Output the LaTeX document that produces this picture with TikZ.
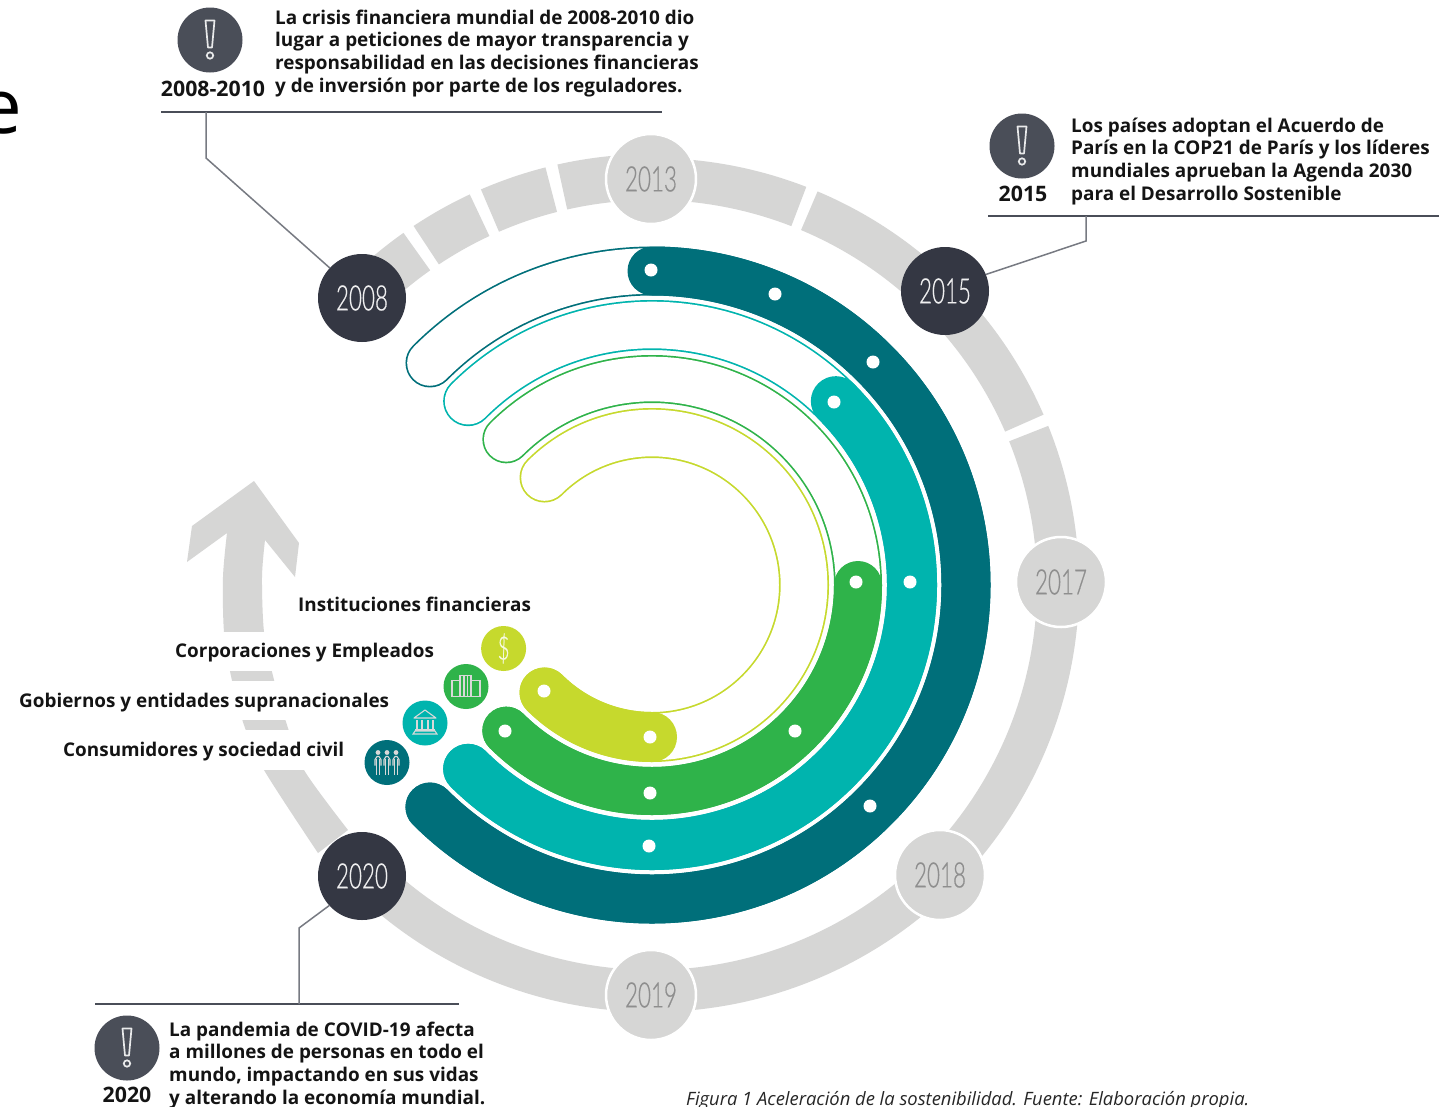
\documentclass[tikz,border=0pt]{standalone}
\usepackage{fontspec}
\setmainfont{Open Sans}
\newfontfamily\yearfont[FakeStretch=0.64,FakeBold=0.5]{Lato Light}
\definecolor{cdark}{HTML}{006F7A}
\definecolor{cteal}{HTML}{00B4AE}
\definecolor{cgreen}{HTML}{2FB34A}
\definecolor{clime}{HTML}{C6D92D}
\definecolor{cnavy}{HTML}{343743}
\definecolor{cgray}{HTML}{D6D6D5}
\definecolor{cgtext}{HTML}{8E8E8E}
\definecolor{calert}{HTML}{4A4E58}
\newcommand\band[4]{%
  \draw[#3,line width=#2 pt,line cap=round] ([shift=(C)]135:#1pt) arc[start angle=135,end angle=-135,radius=#1pt];
  \draw[white,line width=#2 pt-3.4pt,line cap=round] ([shift=(C)]135:#1pt) arc[start angle=135,end angle=-135,radius=#1pt];
  \draw[#3,line width=#2 pt,line cap=round] ([shift=(C)]#4:#1pt) arc[start angle=#4,end angle=-135,radius=#1pt];
}
\newcommand\seg[4]{\draw[cgray,line width=#4 pt] ([shift=(C)]#1:#3pt) arc[start angle=#1,end angle=#2,radius=#3pt];}
\newcommand\alertmark[1]{%
  \begin{scope}[shift={(#1)}]
    \draw[white!88!calert,line width=1.7pt,line join=round] (-4.5,19.5) -- (4.5,19.5) -- (2,-7.5) -- (-2,-7.5) -- cycle;
    \draw[white!88!calert,line width=1.7pt] (0,-15.5) circle[radius=3.2pt];
  \end{scope}}
\tikzset{
  dotw/.style={circle,fill=white,inner sep=0pt,minimum size=13pt},
  yeardark/.style={circle,fill=cnavy,text=white!92!cnavy,inner sep=0pt,minimum size=88pt,font=\yearfont\fontsize{35}{35}\selectfont},
  yeargray/.style={circle,fill=cgray,draw=white,line width=2.5pt,text=cgtext,inner sep=0pt,minimum size=90pt,font=\yearfont\fontsize{35}{35}\selectfont},
  alert/.style={circle,fill=calert,inner sep=0pt,minimum size=65pt},
  icon/.style={circle,inner sep=0pt,minimum size=45pt},
  body/.style={inner sep=0pt,align=left,anchor=north west,font=\fontsize{18.9}{22.7}\selectfont\bfseries,text=black!92},
  lab/.style={inner sep=0pt,anchor=base west,font=\fontsize{18.9}{22}\selectfont\bfseries,text=black!92},
  yr/.style={inner sep=0pt,font=\fontsize{21.3}{22}\selectfont\bfseries,text=black!92},
  rule/.style={calert,line width=1.4pt},
  leader/.style={calert!75!white,line width=1.5pt},
  iconline/.style={white!85!black,line width=1.1pt},
}
\begin{document}
\begin{tikzpicture}[x=1pt,y=1pt]
\clip (0,0) rectangle (1445,-1106);
\fill[white] (0,0) rectangle (1445,-1106);
\coordinate (C) at (652,-585);
% big clipped letter
\node[inner sep=0pt,anchor=base east,font=\fontsize{76}{76}\selectfont] (bigE) at (22,-133) {e};
% grey ring
\seg{135}{125.2}{408}{46}
\seg{123.6}{115}{408}{46}
\seg{113.4}{104.3}{408}{46}
\seg{102.7}{90}{408}{46}
\seg{90}{68.8}{406}{42}
\seg{67.2}{23.5}{406}{42}
\seg{21.9}{-135}{406}{42}
% left rising segment with arrow head
\fill[cgray] plot[smooth] coordinates {(318,-853)(264,-770)(244,-725)(231,-676)(224,-632)(223,-577)(227,-533)}
  -- (187,-562) -- (192,-526) -- (254,-481) -- (299,-543) -- (295,-577)
  -- plot[smooth] coordinates {(265,-540)(262,-577)(264,-632)(273,-676)(287,-725)(304,-770)(348,-830)} -- cycle;
\fill[white] (200,-632) rectangle (330,-671);
\fill[white] (200,-681) rectangle (330,-720);
\fill[white] (200,-730) rectangle (330,-770);
% bands
\band{314}{49}{cdark}{90}
\band{260}{50}{cteal}{45}
\band{206}{48}{cgreen}{0}
\band{152}{50}{clime}{-90}
% dots
\foreach \n/\p in {d1/{651,-270},d2/{775,-294},d3/{873,-362},d4/{870,-806},
  d5/{834,-402},d6/{910,-582},d7/{649,-846},
  d8/{856,-582},d9/{795,-731},d10/{650,-793},d11/{505,-731},
  d12/{650,-737},d13/{544,-691}}
  \node[dotw] (\n) at (\p) {};
% year circles
\node[yeargray] (n2013) at (651,-179) {2013};
\node[yeargray] (n2017) at (1061,-582) {2017};
\node[yeargray] (n2018) at (940,-875) {2018};
\node[yeargray] (n2019) at (651,-995) {2019};
\node[yeardark] (n2008) at (362,-298) {2008};
\node[yeardark] (n2015) at (945,-291) {2015};
\node[yeardark] (n2020) at (362,-876) {2020};
% callout 2008-2010
\node[alert] (a1) at (210,-40) {};
\alertmark{210,-40}
\node[yr] (y1) at (213,-89) {2008-2010};
\node[body] (t1) at (275,-9.5) {La crisis financiera mundial de 2008-2010 dio\\lugar a peticiones de mayor transparencia y\\responsabilidad en las decisiones financieras\\y de inversión por parte de los reguladores.};
\coordinate (r1a) at (161,-112);
\coordinate (r1b) at (662,-112);
\coordinate (l1a) at (206,-112);
\coordinate (l1b) at (206,-158);
\draw[rule] (r1a) -- (r1b);
\draw[leader] (l1a) -- (l1b) -- (n2008.137);
% callout 2015
\node[alert] (a2) at (1022,-146) {};
\alertmark{1022,-146}
\node[yr] (y2) at (1023,-194) {2015};
\node[body] (t2) at (1071,-117.5) {Los países adoptan el Acuerdo de\\París en la COP21 de París y los líderes\\mundiales aprueban la Agenda 2030\\para el Desarrollo Sostenible};
\coordinate (r2a) at (988,-216);
\coordinate (r2b) at (1439,-216);
\coordinate (l2a) at (1086,-216);
\coordinate (l2b) at (1086,-241);
\draw[rule] (r2a) -- (r2b);
\draw[leader] (l2a) -- (l2b) -- (n2015.22);
% callout 2020
\node[alert] (a3) at (127,-1048) {};
\alertmark{127,-1048}
\node[yr] (y3) at (127,-1095) {2020};
\node[body] (t3) at (169,-1021.5) {La pandemia de COVID-19 afecta\\a millones de personas en todo el\\mundo, impactando en sus vidas\\y alterando la economía mundial.};
\coordinate (r3a) at (95,-1004);
\coordinate (r3b) at (459,-1004);
\coordinate (l3a) at (299,-1004);
\coordinate (l3b) at (299,-928);
\draw[rule] (r3a) -- (r3b);
\draw[leader] (l3a) -- (l3b) -- (n2020.222);
% labels
\node[lab] (s1) at (298,-611) {Instituciones financieras};
\node[lab] (s2) at (175,-657) {Corporaciones y Empleados};
\node[lab] (s3) at (19,-707) {Gobiernos y entidades supranacionales};
\node[lab] (s4) at (63,-756) {Consumidores y sociedad civil};
% small icons
\node[icon,fill=clime,text=white!85!clime,font=\yearfont\fontsize{32}{32}\selectfont] (i1) at (503.6,-648.5) {\$};
\node[icon,fill=cgreen] (i2) at (466,-686.5) {};
\node[icon,fill=cteal] (i3) at (425,-723) {};
\node[icon,fill=cdark] (i4) at (387,-762.5) {};
% building icon
\begin{scope}[shift={(i2)}]
  \draw[iconline] (-14,-10) rectangle (-6,6);
  \draw[iconline] (-6,-10) rectangle (5,11);
  \draw[iconline] (5,-10) rectangle (14,6);
  \draw[iconline] (-2,-10) -- (-2,11) (1.5,-10) -- (1.5,11);
\end{scope}
% bank icon
\begin{scope}[shift={(i3)}]
  \draw[iconline,line join=round] (-11,5) -- (0,13) -- (11,5) -- cycle;
  \foreach \xx in {-8,-3,3,8} \draw[iconline,line width=1.4pt] (\xx,3) -- (\xx,-6);
  \draw[iconline] (-10,-7) -- (10,-7);
  \draw[iconline] (-12,-11) -- (12,-11) -- (10,-8) -- (-10,-8) -- cycle;
\end{scope}
% people icon
\begin{scope}[shift={(i4)}]
  \foreach \xx in {-9,0,9} {
    \fill[white!85!black] (\xx,10) circle[radius=2.4pt];
    \draw[iconline,line join=round] (\xx-3,-3) -- (\xx-3,3) -- (\xx-1,6) -- (\xx+1,6) -- (\xx+3,3) -- (\xx+3,-3);
    \draw[iconline] (\xx-1.2,4) -- (\xx-1.2,-12) (\xx+1.2,4) -- (\xx+1.2,-12);
  }
\end{scope}
% caption
\node[inner sep=0pt,anchor=base west,font=\fontsize{18.4}{18}\selectfont\itshape,text=black!85] (cap) at (686,-1105) {Figura 1 Aceleración de la sostenibilidad. Fuente: Elaboración propia.};
\end{tikzpicture}
\end{document}
